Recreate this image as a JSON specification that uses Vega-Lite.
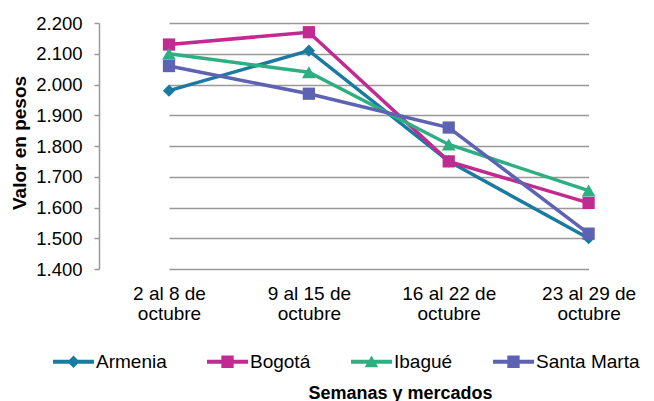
{
  "$schema": "https://vega.github.io/schema/vega-lite/v6.json",
  "width": 555,
  "height": 246,
  "autosize": {"type": "none"},
  "padding": {"left": 99, "top": 23, "right": 0, "bottom": 132},
  "background": "white",
  "config": {"view": {"stroke": null}, "font": "Liberation Sans"},
  "data": {
    "values": [
      {"mercado": "Armenia", "semana": "2 al 8 de|octubre", "valor": 1980},
      {"mercado": "Armenia", "semana": "9 al 15 de|octubre", "valor": 2110},
      {"mercado": "Armenia", "semana": "16 al 22 de|octubre", "valor": 1750},
      {"mercado": "Armenia", "semana": "23 al 29 de|octubre", "valor": 1500},
      {"mercado": "Bogotá", "semana": "2 al 8 de|octubre", "valor": 2130},
      {"mercado": "Bogotá", "semana": "9 al 15 de|octubre", "valor": 2170},
      {"mercado": "Bogotá", "semana": "16 al 22 de|octubre", "valor": 1750},
      {"mercado": "Bogotá", "semana": "23 al 29 de|octubre", "valor": 1615},
      {"mercado": "Ibagué", "semana": "2 al 8 de|octubre", "valor": 2100},
      {"mercado": "Ibagué", "semana": "9 al 15 de|octubre", "valor": 2040},
      {"mercado": "Ibagué", "semana": "16 al 22 de|octubre", "valor": 1805},
      {"mercado": "Ibagué", "semana": "23 al 29 de|octubre", "valor": 1655},
      {"mercado": "Santa Marta", "semana": "2 al 8 de|octubre", "valor": 2060},
      {"mercado": "Santa Marta", "semana": "9 al 15 de|octubre", "valor": 1970},
      {"mercado": "Santa Marta", "semana": "16 al 22 de|octubre", "valor": 1860},
      {"mercado": "Santa Marta", "semana": "23 al 29 de|octubre", "valor": 1515}
    ]
  },
  "encoding": {
    "x": {
      "field": "semana",
      "type": "ordinal",
      "sort": ["2 al 8 de|octubre", "9 al 15 de|octubre", "16 al 22 de|octubre", "23 al 29 de|octubre"],
      "scale": {"type": "point", "padding": 0, "range": [70, 489.6]},
      "axis": {
        "title": "Semanas y mercados",
        "titleFont": "Liberation Sans",
        "titleFontSize": 18,
        "titleFontWeight": "bold",
        "titleColor": "#000000",
        "titleX": 301,
        "titleY": 124,
        "titleAlign": "center",
        "titleBaseline": "middle",
        "titleAnchor": null,
        "labelExpr": "split(datum.label, '|')",
        "labelAngle": 0,
        "labelFont": "Liberation Sans",
        "labelFontSize": 19,
        "labelColor": "#000000",
        "labelLineHeight": 20,
        "labelPadding": 15,
        "labelBaseline": "top",
        "domain": false,
        "ticks": false,
        "grid": false
      }
    },
    "y": {
      "field": "valor",
      "type": "quantitative",
      "scale": {"domain": [1400, 2200], "nice": false, "zero": false},
      "axis": {
        "title": "Valor en pesos",
        "titleFont": "Liberation Sans",
        "titleFontSize": 19,
        "titleFontWeight": "bold",
        "titleColor": "#000000",
        "titleX": -80,
        "titleY": 119.5,
        "titleAngle": -90,
        "titleAlign": "center",
        "titleBaseline": "middle",
        "values": [1400, 1500, 1600, 1700, 1800, 1900, 2000, 2100, 2200],
        "labelExpr": "replace(format(datum.value, ','), ',', '.')",
        "labelFont": "Liberation Sans",
        "labelFontSize": 18.5,
        "labelColor": "#000000",
        "labelPadding": 12,
        "tickSize": 5,
        "tickColor": "#999999",
        "tickWidth": 1.5,
        "domainColor": "#999999",
        "domainWidth": 1.5,
        "grid": true,
        "gridColor": "#999999",
        "gridWidth": 1.5
      }
    },
    "color": {
      "field": "mercado",
      "type": "nominal",
      "scale": {
        "domain": ["Armenia", "Bogotá", "Ibagué", "Santa Marta"],
        "range": ["#1B7AA0", "#C12A91", "#2EAF82", "#5E62B3"]
      },
      "legend": {
        "title": null,
        "orient": "none",
        "direction": "horizontal",
        "columns": 4,
        "legendX": -46,
        "legendY": 318,
        "padding": 0,
        "columnPadding": 40,
        "symbolType": "M-1,-0.1H1V0.1H-1Z",
        "symbolSize": 1681,
        "symbolStrokeWidth": 0,
        "labelFont": "Liberation Sans",
        "labelFontSize": 19,
        "labelColor": "#000000",
        "labelOffset": 2,
        "labelLimit": 300,
        "encode": {
          "symbols": {
            "update": {
              "shape": {"signal": "datum.value == 'Armenia' ? 'M-1,-0.1H1V0.1H-1Z M0,-0.3L0.3,0L0,0.3L-0.3,0Z' : (datum.value == 'Ibagué' ? 'M-1,-0.1H1V0.1H-1Z M0,-0.3L0.33,0.27L-0.33,0.27Z' : 'M-1,-0.1H1V0.1H-1Z M-0.3,-0.3H0.3V0.3H-0.3Z')"},
              "fill": {"signal": "scale('color', datum.value)"},
              "stroke": {"value": "transparent"},
              "strokeWidth": {"value": 0},
              "opacity": {"value": 1},
              "fillOpacity": {"value": 1}
            }
          }
        }
      }
    }
  },
  "layer": [
    {"mark": {"type": "line", "strokeWidth": 3.5}},
    {
      "transform": [{"filter": "datum.mercado == 'Armenia'"}],
      "mark": {"type": "point", "filled": true, "opacity": 1, "shape": "diamond", "size": 150}
    },
    {
      "transform": [{"filter": "datum.mercado == 'Bogotá' || datum.mercado == 'Santa Marta'"}],
      "mark": {"type": "point", "filled": true, "opacity": 1, "shape": "square", "size": 150}
    },
    {
      "transform": [{"filter": "datum.mercado == 'Ibagué'"}],
      "mark": {"type": "point", "filled": true, "opacity": 1, "shape": "triangle-up", "size": 190}
    }
  ]
}
